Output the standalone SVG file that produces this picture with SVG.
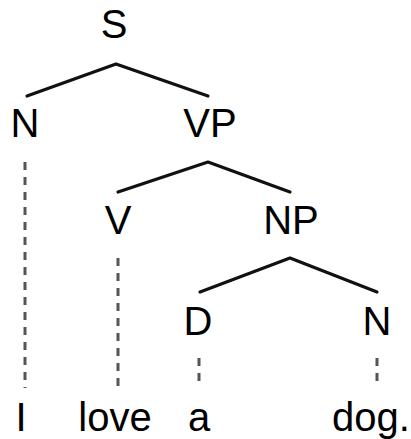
<svg xmlns="http://www.w3.org/2000/svg" width="411" height="439" viewBox="0 0 411 439">
  <style>
    text { font-family: "Liberation Sans", Arial, sans-serif; font-size: 40px; fill: #000; text-anchor: middle; }
    .branch { fill: none; stroke: #111; stroke-width: 3.2; stroke-linejoin: round; stroke-linecap: round; }
    .leaf { fill: none; stroke: #555; stroke-width: 3; stroke-dasharray: 8 7; }
  </style>
  <rect width="411" height="439" fill="#fff"/>

  <!-- tree edges -->
  <g id="connectors">
    <polyline class="branch" points="27,96 116,64 208,96"/>
    <polyline class="branch" points="118,192 208,162 290,192"/>
    <polyline class="branch" points="200,292 290,258 377,292"/>
    <line class="leaf" x1="25" y1="162" x2="25" y2="388"/>
    <line class="leaf" x1="118" y1="258" x2="118" y2="388"/>
    <line class="leaf" x1="199" y1="358" x2="199" y2="384"/>
    <line class="leaf" x1="377" y1="358" x2="377" y2="384"/>
  </g>

  <!-- constituent labels -->
  <g id="node-S"><text x="114" y="38">S</text></g>
  <g id="node-N1"><text x="25" y="137">N</text></g>
  <g id="node-VP"><text x="210" y="137">VP</text></g>
  <g id="node-V"><text x="118" y="234">V</text></g>
  <g id="node-NP"><text x="291" y="234">NP</text></g>
  <g id="node-D"><text x="198" y="335">D</text></g>
  <g id="node-N2"><text x="377" y="335">N</text></g>

  <!-- words -->
  <g id="word-I"><text x="21" y="431">I</text></g>
  <g id="word-love"><text x="115" y="431">love</text></g>
  <g id="word-a"><text x="199" y="431">a</text></g>
  <g id="word-dog"><text x="371" y="431">dog.</text></g>
</svg>
